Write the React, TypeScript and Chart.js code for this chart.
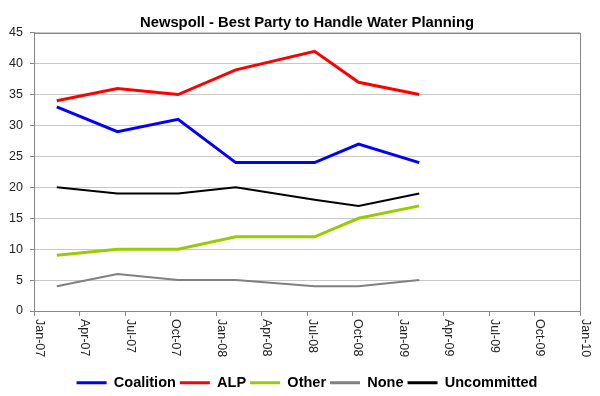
import React, { useEffect, useRef } from 'react';
import { Chart, registerables } from 'chart.js';

Chart.register(...registerables);

const FONT = "'Liberation Sans', Arial, sans-serif";

// months since Jan 2007 for each poll
const pollMonths = [1.5, 5.5, 9.5, 13.3, 18.5, 21.4, 25.4];
const coalition = [33, 29, 31, 24, 24, 27, 24];
const alp = [34, 36, 35, 39, 42, 37, 35];
const other = [9, 10, 10, 12, 12, 15, 17];
const none = [4, 6, 5, 5, 4, 4, 5];
const uncommitted = [20, 19, 19, 20, 18, 17, 19];

const xTickLabels = ['Jan-07', 'Apr-07', 'Jul-07', 'Oct-07', 'Jan-08', 'Apr-08', 'Jul-08', 'Oct-08', 'Jan-09', 'Apr-09', 'Jul-09', 'Oct-09', 'Jan-10'];
const xTickStep = 3;
const yMax = 45;
const yStep = 5;

const seriesNames = ['Coalition', 'ALP', 'Other', 'None', 'Uncommitted'];
const seriesValues = [coalition, alp, other, none, uncommitted];
const seriesColors = ['#0000FF', '#FF0000', '#99CC00', '#808080', '#000000'];
const seriesWidths = [3, 3, 3, 2, 2];

const labelFor = (v: number) => xTickLabels[Math.round(v / xTickStep)] ?? '';

const framePlugin = {
  id: 'frame',
  beforeDatasetsDraw(chart: any) {
    const { ctx, chartArea } = chart;
    ctx.save();
    ctx.strokeStyle = '#868686';
    ctx.lineWidth = 1;
    ctx.strokeRect(Math.round(chartArea.left) + 0.5, Math.round(chartArea.top) + 0.5,
      Math.round(chartArea.right - chartArea.left), Math.round(chartArea.bottom - chartArea.top));
    ctx.restore();
  },
};

const xLabelPlugin = {
  id: 'xLabels',
  afterDraw(chart: any) {
    const scale = chart.scales.x;
    const ctx = chart.ctx;
    ctx.save();
    ctx.font = `12.5px ${FONT}`;
    ctx.fillStyle = '#222222';
    ctx.textAlign = 'left';
    ctx.textBaseline = 'middle';
    scale.ticks.forEach((t: any) => {
      const x = scale.getPixelForValue(t.value);
      ctx.save();
      ctx.translate(x + 5, scale.top + 8);
      ctx.rotate(Math.PI / 2);
      ctx.fillText(labelFor(t.value), 0, 0);
      ctx.restore();
    });
    ctx.restore();
  },
};

export default function App() {
  const ref = useRef<HTMLCanvasElement>(null);
  useEffect(() => {
    document.body.style.margin = '0';
    const canvas = ref.current;
    if (!canvas) return;
    const chart = new Chart(canvas, {
      type: 'line',
      data: {
        datasets: seriesNames.map((name, i) => ({
          label: name,
          data: pollMonths.map((m, j) => ({ x: m, y: seriesValues[i][j] })),
          borderColor: seriesColors[i],
          backgroundColor: seriesColors[i],
          borderWidth: seriesWidths[i],
          pointRadius: 0,
          tension: 0,
          fill: false,
        })),
      },
      options: {
        animation: false,
        responsive: false,
        devicePixelRatio: 1,
        layout: { padding: { left: 0, right: 20, top: 0, bottom: -4 } },
        plugins: {
          title: {
            display: true,
            fullSize: false,
            text: 'Newspoll - Best Party to Handle Water Planning',
            color: '#000000',
            font: { family: FONT, size: 14.8, weight: 'bold' },
            padding: { top: 14, bottom: 1 },
          },
          legend: {
            position: 'bottom',
            fullSize: false,
            labels: {
              color: '#000000',
              font: { family: FONT, size: 14.5, weight: 'bold' },
              boxWidth: 30,
              boxHeight: 3,
              padding: 4,
              generateLabels: (chart: any) =>
                Chart.defaults.plugins.legend.labels.generateLabels(chart).map((l: any) => ({ ...l, lineWidth: 0 })),
            },
          },
          tooltip: { enabled: false },
        },
        scales: {
          x: {
            type: 'linear',
            min: 0,
            max: 36,
            ticks: {
              stepSize: xTickStep,
              color: 'rgba(0,0,0,0)',
              font: { family: FONT, size: 12 },
              minRotation: 90,
              maxRotation: 90,
              callback: (v: any) => labelFor(Number(v)),
            },
            grid: { drawOnChartArea: false, drawTicks: true, tickLength: 5, tickColor: '#868686' },
            border: { color: '#868686' },
            afterFit: (s: any) => { s.height = 60.5; },
          },
          y: {
            min: 0,
            max: yMax,
            ticks: {
              stepSize: yStep,
              color: '#222222',
              font: { family: FONT, size: 12.5 },
              padding: 7,
            },
            grid: { color: '#C8C8C8', tickLength: 4, tickColor: '#868686' },
            border: { color: '#868686' },
            afterFit: (s: any) => { s.width = 34; },
          },
        },
      },
      plugins: [framePlugin, xLabelPlugin],
    });
    return () => chart.destroy();
  }, []);
  return (
    <div style={{ width: 600, height: 396 }}>
      <canvas ref={ref} width={600} height={396} style={{ display: 'block' }} />
    </div>
  );
}
